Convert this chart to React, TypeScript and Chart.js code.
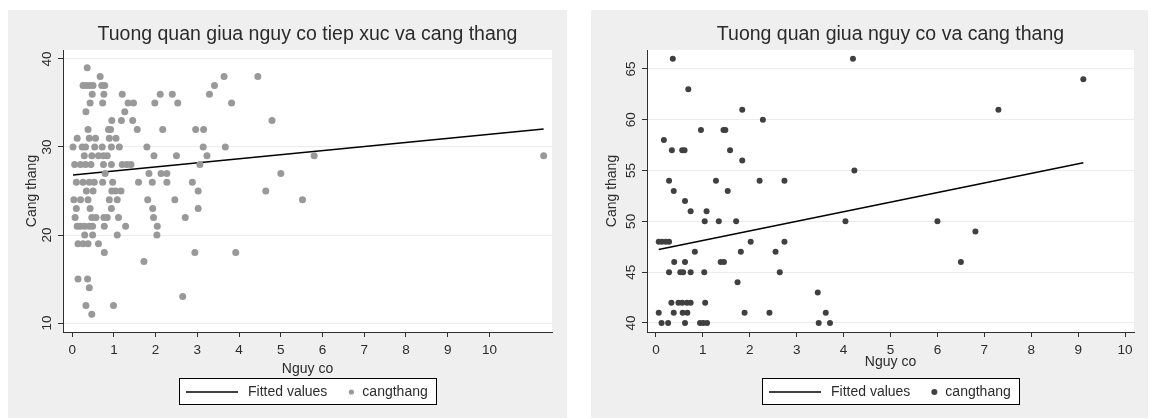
import React, { useEffect, useRef } from "react";
import { Chart, registerables } from "chart.js";

Chart.register(...registerables);

const FONT = "'Liberation Sans', Arial, Helvetica, sans-serif";

// ---- Panel 1: exposure risk vs. stress ----
const TITLE_1 = "Tuong quan giua nguy co tiep xuc va cang thang";
const EXPOSURE_X = [
  0.36,
  0.67, 3.64, 4.45,
  0.26, 0.34, 0.42, 0.5, 0.71, 0.78, 3.41,
  0.48, 0.76, 1.2, 2.11, 2.4, 3.29,
  0.43, 0.73, 1.34, 1.47, 1.98, 2.53, 3.82,
  0.33, 1.26,
  0.95, 1.18, 1.45, 4.79,
  0.38, 0.87, 0.92, 1.56, 2.17, 2.96, 3.15,
  0.12, 0.41, 0.56, 0.89, 1.05,
  0.02, 0.24, 0.32, 0.54, 0.72, 0.94, 1.13, 1.79, 3.14, 3.67,
  0.29, 0.47, 0.63, 0.75, 0.84, 1.96, 2.5, 3.23, 5.8, 11.3,
  0.06, 0.2, 0.32, 0.45, 0.75, 0.94, 1.2, 1.31, 1.41, 3.06,
  0.79, 1.84, 2.13, 2.27, 5.0,
  0.1, 0.26, 0.41, 0.53, 0.73, 0.97, 1.59, 1.92, 2.27, 2.88,
  0.34, 0.5, 0.95, 1.04, 1.17, 3.02, 4.64,
  0.04, 0.2, 0.38, 0.89, 1.08, 1.81, 2.46, 5.52,
  0.1, 0.43, 0.94, 1.93, 3.02,
  0.07, 0.47, 0.57, 0.76, 0.84, 1.11, 1.95, 2.71,
  0.12, 0.2, 0.3, 0.41, 0.49, 0.77, 1.28, 2.04,
  0.3, 0.49, 1.08, 2.03,
  0.14, 0.26, 0.38, 0.63,
  0.77, 2.94, 3.92,
  1.72,
  0.14, 0.37,
  0.41,
  2.65,
  0.33, 0.99,
  0.47,
];
const EXPOSURE_STRESS = [
  39,
  38, 38, 38,
  37, 37, 37, 37, 37, 37, 37,
  36, 36, 36, 36, 36, 36,
  35, 35, 35, 35, 35, 35, 35,
  34, 34,
  33, 33, 33, 33,
  32, 32, 32, 32, 32, 32, 32,
  31, 31, 31, 31, 31,
  30, 30, 30, 30, 30, 30, 30, 30, 30, 30,
  29, 29, 29, 29, 29, 29, 29, 29, 29, 29,
  28, 28, 28, 28, 28, 28, 28, 28, 28, 28,
  27, 27, 27, 27, 27,
  26, 26, 26, 26, 26, 26, 26, 26, 26, 26,
  25, 25, 25, 25, 25, 25, 25,
  24, 24, 24, 24, 24, 24, 24, 24,
  23, 23, 23, 23, 23,
  22, 22, 22, 22, 22, 22, 22, 22,
  21, 21, 21, 21, 21, 21, 21, 21,
  20, 20, 20, 20,
  19, 19, 19, 19,
  18, 18, 18,
  17,
  15, 15,
  14,
  13,
  12, 12,
  11,
];
const FIT_1_X = [0.02, 11.3];
const FIT_1_Y = [26.82, 32.05];
const X_TICKS_1 = [0, 1, 2, 3, 4, 5, 6, 7, 8, 9, 10];
const Y_TICKS_1 = [10, 20, 30, 40];

// ---- Panel 2: risk vs. stress ----
const TITLE_2 = "Tuong quan giua nguy co va cang thang";
const RISK_X = [
  0.36, 4.2,
  9.11,
  0.69,
  1.84, 7.3,
  2.28,
  0.96, 1.44, 1.48,
  0.17,
  0.34, 0.56, 0.61, 1.58,
  1.84,
  4.23,
  0.28, 1.28, 2.21, 2.74,
  0.38, 1.53,
  0.62,
  0.74, 1.08,
  1.04, 1.34, 1.71, 4.04, 6.0,
  6.81,
  0.06, 0.13, 0.21, 0.28, 2.02, 2.74,
  0.83, 1.81, 2.55,
  0.39, 0.62, 1.38, 1.45, 6.5,
  0.28, 0.52, 0.58, 0.74, 1.03, 2.64,
  1.74,
  3.45,
  0.33, 0.48, 0.56, 0.66, 0.74, 1.05,
  0.06, 0.38, 0.57, 0.67, 1.89, 2.42, 3.62,
  0.12, 0.26, 0.62, 0.94, 1.01, 1.09, 3.47, 3.71,
];
const RISK_STRESS = [
  66, 66,
  64,
  63,
  61, 61,
  60,
  59, 59, 59,
  58,
  57, 57, 57, 57,
  56,
  55,
  54, 54, 54, 54,
  53, 53,
  52,
  51, 51,
  50, 50, 50, 50, 50,
  49,
  48, 48, 48, 48, 48, 48,
  47, 47, 47,
  46, 46, 46, 46, 46,
  45, 45, 45, 45, 45, 45,
  44,
  43,
  42, 42, 42, 42, 42, 42,
  41, 41, 41, 41, 41, 41, 41,
  40, 40, 40, 40, 40, 40, 40, 40,
];
const FIT_2_X = [0.06, 9.11];
const FIT_2_Y = [47.24, 55.77];
const X_TICKS_2 = [0, 1, 2, 3, 4, 5, 6, 7, 8, 9, 10];
const Y_TICKS_2 = [40, 45, 50, 55, 60, 65];

const X_TITLE = "Nguy co";
const Y_TITLE = "Cang thang";
const FIT_LABEL = "Fitted values";
const SERIES_LABEL = "cangthang";

const TEXT = "#2b2b2b";
const AXIS = "#303030";

type PanelSpec = {
  title: string;
  xs: number[];
  ys: number[];
  fitX: number[];
  fitY: number[];
  xTicks: number[];
  yTicks: number[];
  xMin: number;
  xMax: number;
  yMin: number;
  yMax: number;
  dot: string;
  dotRadius: number;
  legendDotRadius: number;
  width: number;
  yAxisWidth: number;
  yTitlePad: number;
  xTitlePad: number;
};

// Draws the grey graph region, the white plot region and the boxed legend.
const framePlugin = {
  id: "stataFrame",
  beforeDraw(chart: any, _args: any, opts: any) {
    const { ctx, chartArea: a, width, height } = chart;
    ctx.save();
    ctx.fillStyle = "#efefef";
    ctx.fillRect(0, 0, width, height);
    ctx.fillStyle = "#ffffff";
    ctx.fillRect(a.left, a.top, a.right - a.left, a.bottom - a.top);
    ctx.restore();
  },
  afterDraw(chart: any, _args: any, opts: any) {
    const { ctx, chartArea: a } = chart;
    const fit = chart.data.datasets[1];
    const pts = chart.data.datasets[0];
    ctx.save();
    ctx.font = `14px ${FONT}`;
    const w1 = ctx.measureText(fit.label).width;
    const w2 = ctx.measureText(pts.label).width;
    const padL = 7;
    const lineLen = 52;
    const gapText = 10;
    const gapItem = 21;
    const markW = 6;
    const gapMark = 8;
    const padR = 9;
    const boxW = padL + lineLen + gapText + w1 + gapItem + markW + gapMark + w2 + padR;
    const boxH = 27;
    const left = Math.round((a.left + a.right) / 2 - boxW / 2);
    const top = Math.round(a.bottom + 46);
    ctx.fillStyle = "#ffffff";
    ctx.fillRect(left, top, boxW, boxH);
    ctx.strokeStyle = "#000000";
    ctx.lineWidth = 1;
    ctx.strokeRect(left + 0.5, top + 0.5, Math.round(boxW) - 1, boxH - 1);
    const cy = top + 14;
    let x = left + padL;
    ctx.strokeStyle = fit.borderColor;
    ctx.lineWidth = 1.5;
    ctx.beginPath();
    ctx.moveTo(x, cy);
    ctx.lineTo(x + lineLen, cy);
    ctx.stroke();
    x += lineLen + gapText;
    ctx.fillStyle = TEXT;
    ctx.textBaseline = "middle";
    ctx.textAlign = "left";
    ctx.fillText(fit.label, x, cy);
    x += w1 + gapItem;
    ctx.fillStyle = pts.backgroundColor;
    ctx.beginPath();
    ctx.arc(x + markW / 2, cy, opts.legendDotRadius, 0, Math.PI * 2);
    ctx.fill();
    x += markW + gapMark;
    ctx.fillStyle = TEXT;
    ctx.fillText(pts.label, x, cy);
    ctx.restore();
  },
};

function Panel({ spec }: { spec: PanelSpec }) {
  const ref = useRef<HTMLCanvasElement | null>(null);

  useEffect(() => {
    if (!ref.current) return;
    const points = spec.xs.map((x, i) => ({ x, y: spec.ys[i] }));
    const fitted = spec.fitX.map((x, i) => ({ x, y: spec.fitY[i] }));
    const tickFont = { family: FONT, size: 13.5 };
    const titleFont = { family: FONT, size: 14 };

    const chart = new Chart(ref.current, {
      type: "scatter",
      data: {
        datasets: [
          {
            label: SERIES_LABEL,
            data: points,
            backgroundColor: spec.dot,
            borderWidth: 0,
            pointRadius: spec.dotRadius,
            pointHoverRadius: spec.dotRadius,
            order: 1,
          },
          {
            label: FIT_LABEL,
            type: "line",
            data: fitted,
            borderColor: "#000000",
            borderWidth: 1.5,
            pointRadius: 0,
            showLine: true,
            fill: false,
            order: 2,
          } as any,
        ],
      },
      plugins: [framePlugin as any],
      options: {
        responsive: false,
        animation: false,
        events: [],
        layout: { padding: { left: 0, right: 15, top: 0, bottom: 40 } },
        plugins: {
          legend: { display: false },
          tooltip: { enabled: false },
          title: {
            display: true,
            text: spec.title,
            fullSize: false,
            color: TEXT,
            font: { family: FONT, size: 19.5, weight: "normal" },
            padding: { top: 13.3, bottom: 3.3 },
          },
          stataFrame: { legendDotRadius: spec.legendDotRadius },
        } as any,
        scales: {
          x: {
            type: "linear",
            min: spec.xMin,
            max: spec.xMax,
            afterBuildTicks: (s: any) => {
              s.ticks = spec.xTicks.map((v) => ({ value: v }));
            },
            afterFit: (s: any) => {
              s.height = 46;
            },
            grid: {
              display: true,
              drawOnChartArea: false,
              drawTicks: true,
              tickLength: 5,
              tickColor: AXIS,
              tickWidth: 1,
            },
            border: { display: true, color: AXIS, width: 1 },
            ticks: {
              font: tickFont,
              color: TEXT,
              padding: 5,
              minRotation: 0,
              maxRotation: 0,
              autoSkip: false,
            },
            title: {
              display: true,
              text: X_TITLE,
              color: TEXT,
              font: titleFont,
              padding: { top: 0, bottom: spec.xTitlePad },
            },
          },
          y: {
            type: "linear",
            min: spec.yMin,
            max: spec.yMax,
            afterBuildTicks: (s: any) => {
              s.ticks = spec.yTicks.map((v) => ({ value: v }));
            },
            afterFit: (s: any) => {
              s.width = spec.yAxisWidth;
            },
            grid: {
              display: true,
              color: "#ececec",
              lineWidth: 1,
              drawTicks: true,
              tickLength: 5,
              tickColor: AXIS,
              tickWidth: 1,
            },
            border: { display: true, color: AXIS, width: 1 },
            ticks: {
              font: tickFont,
              color: TEXT,
              padding: 3.5,
              minRotation: 90,
              maxRotation: 90,
              crossAlign: "center",
              autoSkip: false,
            },
            title: {
              display: true,
              text: Y_TITLE,
              color: TEXT,
              font: titleFont,
              padding: { top: spec.yTitlePad, bottom: 0 },
            },
          },
        },
      } as any,
    });
    return () => chart.destroy();
  }, [spec]);

  return (
    <canvas
      ref={ref}
      width={spec.width}
      height={408}
      style={{ display: "block", width: spec.width, height: 408 }}
    />
  );
}

const PANELS: PanelSpec[] = [
  {
    title: TITLE_1,
    xs: EXPOSURE_X,
    ys: EXPOSURE_STRESS,
    fitX: FIT_1_X,
    fitY: FIT_1_Y,
    xTicks: X_TICKS_1,
    yTicks: Y_TICKS_1,
    xMin: -0.22,
    xMax: 11.5,
    yMin: 8.98,
    yMax: 41.02,
    dot: "#999999",
    dotRadius: 3.5,
    legendDotRadius: 2.6,
    width: 559,
    yAxisWidth: 55,
    yTitlePad: 15.6,
    xTitlePad: 0.6,
  },
  {
    title: TITLE_2,
    xs: RISK_X,
    ys: RISK_STRESS,
    fitX: FIT_2_X,
    fitY: FIT_2_Y,
    xTicks: X_TICKS_2,
    yTicks: Y_TICKS_2,
    xMin: -0.19,
    xMax: 10.19,
    yMin: 39.11,
    yMax: 66.87,
    dot: "#404040",
    dotRadius: 3,
    legendDotRadius: 3,
    width: 558,
    yAxisWidth: 56,
    yTitlePad: 12.6,
    xTitlePad: 7.6,
  },
];

export default function App() {
  return (
    <div style={{ display: "flex", gap: 24, marginTop: 2 }}>
      {PANELS.map((p) => (
        <Panel key={p.title} spec={p} />
      ))}
    </div>
  );
}
